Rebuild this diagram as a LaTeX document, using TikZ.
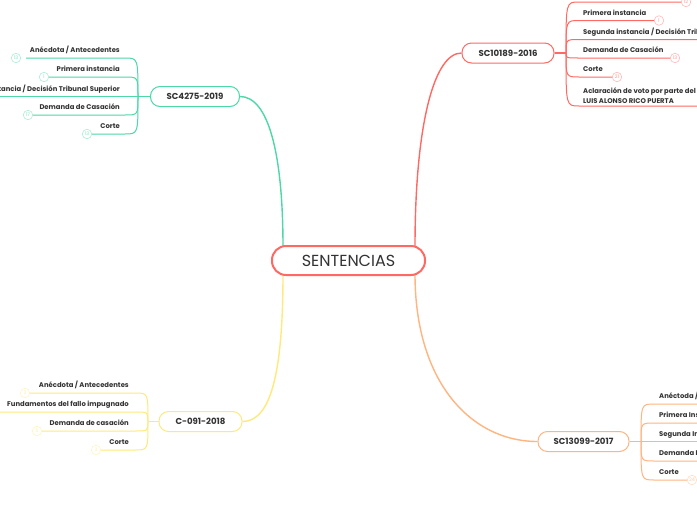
\documentclass[tikz,border=0pt]{standalone}
\usepackage{fontspec}
\setmainfont{Poppins}
\definecolor{cred}{RGB}{255,105,100}
\definecolor{cgreen}{RGB}{78,216,166}
\definecolor{cyellow}{RGB}{255,233,125}
\definecolor{corange}{RGB}{255,181,128}
\definecolor{ctext}{RGB}{51,51,51}
\begin{document}
\begin{tikzpicture}[x=1pt,y=-1pt,
  root/.style={draw=cred, line width=2pt, fill=white, rounded corners=14pt, minimum width=153pt, minimum height=29pt, font=\fontsize{16}{18}\selectfont, text=ctext, inner sep=0pt},
  branch/.style={fill=white, line width=1pt, rounded corners=9.5pt, minimum height=20pt, font=\bfseries\fontsize{8.6}{10}\selectfont, text=ctext, inner sep=0pt},
  lbl/.style={font=\bfseries\fontsize{6.85}{10}\selectfont, text=ctext, inner sep=0pt},
  num/.style={circle, draw=#1!45, fill=white, text=#1!70, minimum size=9.5pt, inner sep=0pt, font=\fontsize{4.8}{5}\selectfont, line width=0.6pt},
  mainline/.style={line width=1.4pt},
  subline/.style={line width=1pt}]
\useasboundingbox (0,0) rectangle (697,520);
\fill[white] (0,0) rectangle (697,520);
\clip (0,0) rectangle (697,520);

% attachment points on the root
\coordinate (r1) at (283,247);
\coordinate (r2) at (415,247);
\coordinate (r3) at (283,274);
\coordinate (r4) at (415,274);

% branches
\node[branch, draw=cgreen, minimum width=89pt] (b1) at (195,96.5) {SC4275-2019};
\node[branch, draw=cred, minimum width=92pt] (b2) at (508,53) {SC10189-2016};
\node[branch, draw=cyellow, minimum width=83pt] (b3) at (200.5,421.5) {C-091-2018};
\node[branch, draw=corange, minimum width=91pt] (b4) at (583.5,441.5) {SC13099-2017};

\draw[mainline, cgreen] (r1) .. controls +(0,-95) and +(28,0) .. (b1.east);
\draw[mainline, cred] (r2) .. controls +(0,-120) and +(-28,0) .. (b2.west);
\draw[mainline, cyellow] (r3) .. controls +(0,100) and +(28,0) .. (b3.east);
\draw[mainline, corange] (r4) .. controls +(0,110) and +(-65,0) .. (b4.west);

\node[root] (root) at (348.5,260.5) {SENTENCIAS};

% junctions
\coordinate (j1) at (138,96.5);
\coordinate (j2) at (566,53);
\coordinate (j3) at (148,421.5);
\coordinate (j4) at (641,441.5);
\draw[mainline, cgreen] (b1.west) -- (j1);
\draw[mainline, cred] (b2.east) -- (j2);
\draw[mainline, cyellow] (b3.west) -- (j3);
\draw[mainline, corange] (b4.east) -- (j4);

% ---------- green children ----------
\node[lbl, anchor=base east] (g1) at (120,52.5) {Anécdota / Antecedentes};
\node[lbl, anchor=base east] (g2) at (120,71.5) {Primera instancia};
\node[lbl, anchor=base east] (g3) at (120,91) {Segunda instancia / Decisión Tribunal Superior};
\node[lbl, anchor=base east] (g4) at (120,109.5) {Demanda de Casación};
\node[lbl, anchor=base east] (g5) at (120,128.5) {Corte};
\coordinate (g3e) at (-5,96.5);
\draw[subline, cgreen] (j1) .. controls (138,58) .. (125,58) -- (26,58);
\draw[subline, cgreen] (j1) .. controls (138,77) .. (125,77) -- (48,77);
\draw[subline, cgreen] (j1) -- (g3e);
\draw[subline, cgreen] (j1) .. controls (138,115) .. (125,115) -- (32,115);
\draw[subline, cgreen] (j1) .. controls (138,134) .. (125,134) -- (91,134);
\node[num=cgreen] (gn1) at (16,58) {13};
\node[num=cgreen] (gn2) at (44,77) {1};
\node[num=cgreen] (gn4) at (28,115) {17};
\node[num=cgreen] (gn5) at (87,134) {13};

% ---------- red children ----------
\node[lbl, anchor=base west] (s1) at (583,15) {Primera instancia};
\node[lbl, anchor=base west] (s2) at (583,34) {Segunda instancia / Decisión Tribunal Superior};
\node[lbl, anchor=base west] (s3) at (583,52.5) {Demanda de Casación};
\node[lbl, anchor=base west] (s4) at (583,71.5) {Corte};
\node[lbl, anchor=south west, align=left] (s5) at (583,103.5) {Aclaración de voto por parte del\\LUIS ALONSO RICO PUERTA};
\draw[subline, cred] (j2) .. controls (566,2) .. (579,2) -- (682,2);
\draw[subline, cred] (j2) .. controls (566,20.5) .. (579,20.5) -- (655,20.5);
\draw[subline, cred] (j2) .. controls (566,39.5) .. (579,39.5) -- (705,39.5);
\draw[subline, cred] (j2) .. controls (566,58) .. (579,58) -- (671,58);
\draw[subline, cred] (j2) .. controls (566,77) .. (579,77) -- (613,77);
\draw[subline, cred] (j2) .. controls (566,106) .. (579,106) -- (705,106);
\node[num=cred] (sn0) at (686,2) {12};
\node[num=cred] (sn1) at (659,20.5) {1};
\node[num=cred] (sn3) at (675,58) {13};
\node[num=cred] (sn4) at (617,77) {21};

% ---------- yellow children ----------
\node[lbl, anchor=base east] (y1) at (129,387.5) {Anécdota / Antecedentes};
\node[lbl, anchor=base east] (y2) at (129,406.5) {Fundamentos del fallo impugnado};
\node[lbl, anchor=base east] (y3) at (129,425.5) {Demanda de casación};
\node[lbl, anchor=base east] (y4) at (129,444.5) {Corte};
\draw[subline, cyellow] (j3) .. controls (148,393) .. (135,393) -- (29,393);
\draw[subline, cyellow] (j3) .. controls (148,412) .. (135,412) -- (-5,412);
\draw[subline, cyellow] (j3) .. controls (148,431) .. (135,431) -- (41,431);
\draw[subline, cyellow] (j3) .. controls (148,450) .. (135,450) -- (100,450);
\node[num=cyellow] (yn1) at (25,393) {3};
\node[num=cyellow] (yn3) at (37,431) {5};
\node[num=cyellow] (yn4) at (96,450) {3};

% ---------- orange children ----------
\node[lbl, anchor=base west] (o1) at (659,398.5) {Anéctoda / Antecedentes};
\node[lbl, anchor=base west] (o2) at (659,417.5) {Primera Instancia};
\node[lbl, anchor=base west] (o3) at (659,436.5) {Segunda Instancia / Decisión Tribunal Superior};
\node[lbl, anchor=base west] (o4) at (659,455.5) {Demanda De Casación};
\node[lbl, anchor=base west] (o5) at (659,474.5) {Corte};
\coordinate (o3e) at (705,441.5);
\draw[subline, corange] (j4) .. controls (641,404) .. (654,404) -- (705,404);
\draw[subline, corange] (j4) .. controls (641,423) .. (654,423) -- (705,423);
\draw[subline, corange] (j4) -- (o3e);
\draw[subline, corange] (j4) .. controls (641,461) .. (654,461) -- (705,461);
\draw[subline, corange] (j4) .. controls (641,480) .. (654,480) -- (688,480);
\node[num=corange] (on5) at (692,480) {24};
\end{tikzpicture}
\end{document}
